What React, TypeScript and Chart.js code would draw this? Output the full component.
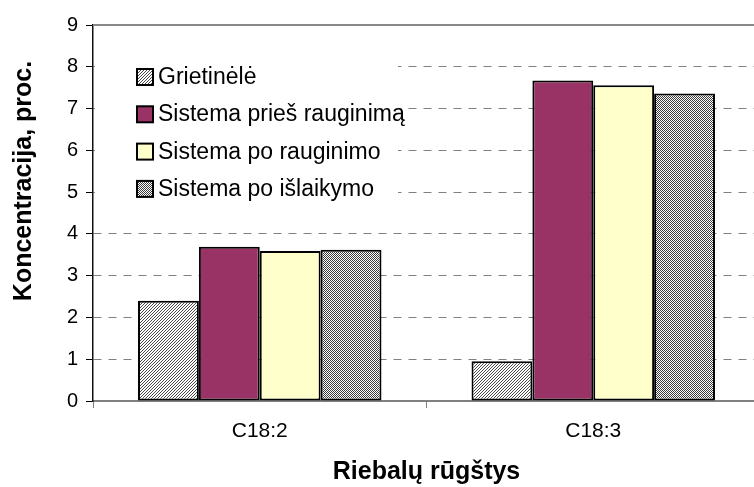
import React, { useEffect, useRef } from "react";
import { Chart, registerables } from "chart.js";

Chart.register(...registerables);

const categories = ["C18:2", "C18:3"];
const seriesNames = [
  "Grietinėlė",
  "Sistema prieš rauginimą",
  "Sistema po rauginimo",
  "Sistema po išlaikymo",
];
const grietinele = [2.4, 0.95];
const priesRauginima = [3.69, 7.67];
const poRauginimo = [3.59, 7.56];
const poIslaikymo = [3.62, 7.36];
const yMin = 0;
const yMax = 9;
const yStep = 1;
const yTitle = "Koncentracija, proc.";
const xTitle = "Riebalų rūgštys";

const FONT = '"Liberation Sans", Arial, sans-serif';

function makePattern(size: number, dark: string, fn: (x: number, y: number) => boolean) {
  const c = document.createElement("canvas");
  c.width = size;
  c.height = size;
  const g = c.getContext("2d")!;
  g.fillStyle = "#ffffff";
  g.fillRect(0, 0, size, size);
  g.fillStyle = dark;
  for (let y = 0; y < size; y++) {
    for (let x = 0; x < size; x++) {
      if (fn(x, y)) g.fillRect(x, y, 1, 1);
    }
  }
  return g.createPattern(c, "repeat") as CanvasPattern;
}

export default function App() {
  const ref = useRef<HTMLCanvasElement | null>(null);

  useEffect(() => {
    const canvas = ref.current;
    if (!canvas) return;
    const hatch = makePattern(3, "#4a4a4a", (x, y) => (x + y) % 3 === 0);
    const checker = makePattern(2, "#3a3a3a", (x, y) => (x + y) % 2 === 0);
    const fills: (string | CanvasPattern)[] = [hatch, "#993366", "#FFFFCC", checker];
    const values = [grietinele, priesRauginima, poRauginimo, poIslaikymo];

    const legendPlugin = {
      id: "insideLegend",
      beforeDatasetsDraw(chart: any) {
        const ctx = chart.ctx;
        const a = chart.chartArea;
        ctx.save();
        ctx.strokeStyle = "#888888";
        ctx.lineWidth = 2;
        ctx.beginPath();
        ctx.moveTo(a.left, a.top);
        ctx.lineTo(a.right, a.top);
        ctx.stroke();
        ctx.fillStyle = "#ffffff";
        ctx.fillRect(a.left + 2, 50, 398 - a.left - 2, 158);
        ctx.restore();
      },
      afterDraw(chart: any) {
        const ctx = chart.ctx;
        ctx.save();
        ctx.font = `23px ${FONT}`;
        ctx.textAlign = "left";
        ctx.textBaseline = "alphabetic";
        chart.data.datasets.forEach((ds: any, i: number) => {
          const top = 69 + i * 37.3;
          ctx.fillStyle = ds.backgroundColor;
          ctx.fillRect(137, top, 16, 16);
          ctx.strokeStyle = "#000";
          ctx.lineWidth = 2;
          ctx.strokeRect(137, top, 16, 16);
          ctx.fillStyle = "#000";
          ctx.fillText(ds.label, 158, top + 15);
        });
        ctx.translate(31, 181);
        ctx.rotate(-Math.PI / 2);
        ctx.font = `bold 25px ${FONT}`;
        ctx.textAlign = "center";
        ctx.fillText(yTitle, 0, 0);
        ctx.restore();
      },
    };

    const chart = new Chart(canvas, {
      type: "bar",
      data: {
        labels: categories,
        datasets: seriesNames.map((name, i) => ({
          label: name,
          data: values[i],
          backgroundColor: fills[i] as any,
          borderColor: "#000000",
          borderWidth: 2,
          borderSkipped: false,
          categoryPercentage: 0.73,
          barPercentage: 1,
        })),
      },
      options: {
        responsive: false,
        animation: false,
        layout: { padding: { left: 0, right: 10, top: 25, bottom: 0 } },
        plugins: {
          legend: { display: false },
          tooltip: { enabled: false },
        },
        scales: {
          x: {
            type: "category",
            offset: true,
            grid: {
              display: true,
              offset: true,
              drawOnChartArea: false,
              drawTicks: true,
              tickLength: 7,
              tickColor: "#808080",
              tickWidth: 1,
            },
            border: { display: true, color: "#808080", width: 2 },
            ticks: {
              color: "#000",
              font: { family: FONT, size: 21 },
              padding: 11,
              maxRotation: 0,
            },
            title: {
              display: true,
              text: xTitle,
              color: "#000",
              font: { family: FONT, size: 25, weight: "bold" },
              padding: { top: 0, bottom: 0 },
            },
            afterFit: (s: any) => {
              s.height = 86;
            },
          },
          y: {
            min: yMin,
            max: yMax,
            ticks: {
              stepSize: yStep,
              color: "#000",
              font: { family: FONT, size: 20 },
              padding: 8,
            },
            grid: {
              color: (c: any) =>
                c.tick && (c.tick.value === yMin || c.tick.value === yMax)
                  ? "rgba(0,0,0,0)"
                  : "#808080",
              lineWidth: 1,
              drawTicks: true,
              tickLength: 7,
              tickColor: "#000",
              tickWidth: 1,
            },
            border: { display: true, color: "#111", width: 1.5, dash: [8, 7] },
            afterFit: (s: any) => {
              s.width = 93;
            },
          },
        },
      },
      plugins: [legendPlugin],
    });

    return () => chart.destroy();
  }, []);

  return (
    <div
      style={{
        position: "fixed",
        left: 0,
        top: 0,
        width: 754,
        height: 487,
        overflow: "hidden",
        background: "#fff",
      }}
    >
      <canvas ref={ref} width={770} height={487} style={{ display: "block", width: 770, height: 487 }} />
    </div>
  );
}
